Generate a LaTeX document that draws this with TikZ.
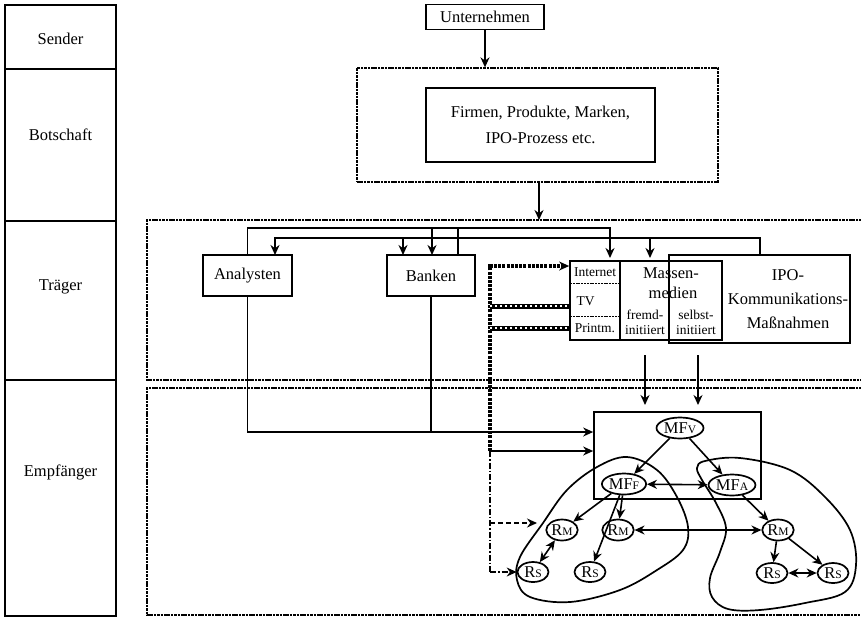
\documentclass[tikz,border=0pt]{standalone}
\usepackage{fontspec}
\setmainfont{Liberation Serif}
\usetikzlibrary{arrows.meta,shapes.geometric,calc}
\newcommand\lowcap[1]{{\fontsize{11.5}{11.5}\selectfont #1}}
\begin{document}
\begin{tikzpicture}[x=1pt,y=-1pt,
  bigtxt/.style={font=\fontsize{16.5}{19}\selectfont},
  smalltxt/.style={font=\fontsize{13.5}{15}\selectfont},
  box/.style={draw, line width=1.7pt, bigtxt, inner sep=0pt},
  conn/.style={line width=1.6pt},
  arr/.style={conn, -{Stealth[length=10pt,width=9pt]}},
  dbl/.style={conn, {Stealth[length=10pt,width=9pt]}-{Stealth[length=10pt,width=9pt]}},
  dframe/.style={line width=1.3pt, dash pattern=on 2.6pt off 0.8pt},
  ell/.style={draw, ellipse, line width=1.7pt, inner sep=0.5pt, minimum height=21pt,
    font=\fontsize{16.5}{16.5}\selectfont},
  heavy/.style={line width=3.2pt, dash pattern=on 3pt off 1.2pt},
  rail/.style={line width=5pt, postaction={draw, white, line width=1.8pt, dash pattern=on 2.2pt off 2.8pt}},
  mixed/.style={line width=1.2pt, dash pattern=on 6pt off 2pt on 1.5pt off 2pt},
  blob/.style={line width=1.7pt},
]
\useasboundingbox (0,0) rectangle (861,619);

% ---------- left column ----------
\draw[line width=1.7pt] (5,5) rectangle (116,616);
\foreach \yy in {69,221,380} \draw[line width=1.7pt] (5,\yy) -- (116,\yy);
\node[bigtxt] (lsender) at (60.5,39) {Sender};
\node[bigtxt] (lbot) at (60.5,135) {Botschaft};
\node[bigtxt] (ltraeger) at (60.5,287) {Träger};
\node[bigtxt] (lempf) at (60.5,472) {Empfänger};

% ---------- sender and message ----------
\node[box, minimum width=118pt, minimum height=25pt] (unt) at (485,17) {Unternehmen};
\node[draw, dframe, minimum width=361pt, minimum height=114pt] (botbox) at (537.5,125) {};
\node[box, minimum width=229pt, minimum height=74pt, align=center,
  font=\fontsize{16.5}{26}\selectfont] (msg) at (540.5,125) {Firmen, Produkte, Marken,\\IPO-Prozess etc.};
\draw[arr] (unt.south) -- (unt.south |- botbox.north);
\coordinate (trtop) at (539,220);
\draw[arr] (botbox.south -| trtop) -- (trtop);

% ---------- carrier frame ----------
\draw[dframe] (872,220) -| (147,380) -- (872,380);

\node[box, minimum width=89pt, minimum height=41pt] (ana) at (247.5,275.5) {Analysten};
\node[box, minimum width=88pt, minimum height=41pt] (ban) at (431,275.5) {Banken};

% mass media block
\node[draw, line width=1.7pt, minimum width=152pt, minimum height=79pt, inner sep=0pt] (media) at (646,300.5) {};
\draw[line width=1.4pt] (620,261) -- (620,340);
\draw[line width=1pt, dash pattern=on 2pt off 0.8pt] (570,283) -- (620,283);
\draw[line width=1pt, dash pattern=on 2pt off 0.8pt] (570,316) -- (620,316);
\node[smalltxt] (tinet) at (595,272) {Internet};
\node[smalltxt, anchor=west] (ttv) at (573,301) {TV};
\node[smalltxt] (tprint) at (595,328) {Printm.};
\node[bigtxt] (tmassen) at (671,273) {Massen-};
\node[bigtxt] (tmedien) at (673,293) {medien};
\node[smalltxt, align=center, font=\fontsize{13.5}{15}\selectfont] (tfremd) at (645,322) {fremd-\\initiiert};
\node[smalltxt, align=center, font=\fontsize{13.5}{15}\selectfont] (tselbst) at (696,322) {selbst-\\initiiert};

\node[box, minimum width=181pt, minimum height=88pt] (ipo) at (759.5,299) {};
\node[bigtxt, align=center, font=\fontsize{16.5}{24}\selectfont] (tipo) at (788,299) {IPO-\\Kommunikations-\\Maßnahmen};

% distribution lines
\coordinate (upA) at (610,258);
\coordinate (upB) at (650,258);
\draw[arr] (ana.north) |- (610,228) -- (upA);
\draw[arr] (432,228) -- (432,255);
\draw[conn] (458,255) -- (458,228);
\draw[arr] (ipo.north -| 760,0) |- (275,238) -- (275,255);
\draw[arr] (403,238) -- (403,255);
\draw[arr] (650,238) -- (upB);

% media channels
\coordinate (split) at (490,451);
\draw[heavy, -{Stealth[length=10pt,width=9pt]}] (split) -- (490,266) -- (media.west |- 0,266);
\draw[rail] (490,306) -- (media.west |- 0,306);
\draw[rail] (490,328) -- (media.west |- 0,328);

% ---------- recipient frame ----------
\draw[dframe] (872,388) -| (147,615) -- (872,615);

\node[draw, line width=1.7pt, minimum width=167pt, minimum height=87pt, inner sep=0pt] (mfbox) at (677.5,455.5) {};
\draw[arr] (645,355) -- (645,405);
\draw[arr] (698,355) -- (698,405);
\draw[arr] (ana.south) |- (mfbox.west |- 0,432);
\draw[conn] (ban.south) -- (431,432);
\draw[arr] (split) -- (mfbox.west |- split);

% opinion network
\node[ell, minimum width=47pt] (mfv) at (680,428) {MF\lowcap{V}};
\node[ell, minimum width=43pt] (mff) at (624,484) {MF\lowcap{F}};
\node[ell, minimum width=44pt] (mfa) at (732,485) {MF\lowcap{A}};
\node[ell, minimum width=31pt] (rml) at (562,530) {R\lowcap{M}};
\node[ell, minimum width=31pt] (rmm) at (618,530) {R\lowcap{M}};
\node[ell, minimum width=31pt] (rmr) at (778,530) {R\lowcap{M}};
\node[ell, minimum width=31pt, minimum height=20pt] (rsl) at (533,572) {R\lowcap{S}};
\node[ell, minimum width=31pt, minimum height=20pt] (rsm) at (590,572) {R\lowcap{S}};
\node[ell, minimum width=31pt, minimum height=20pt] (rsr) at (772,573) {R\lowcap{S}};
\node[ell, minimum width=31pt, minimum height=20pt] (rsx) at (833,573) {R\lowcap{S}};

\draw[arr] (mfv) -- (mff);
\draw[arr] (mfv) -- (mfa);
\draw[dbl] (mff) -- (mfa);
\draw[arr] (mff) -- (rml);
\draw[arr] (mff) -- (rmm);
\draw[arr] (mff) -- (rsm);
\draw[dbl] (rml) -- (rsl);
\draw[dbl] (rmm) -- (rmr);
\draw[arr] (mfa) -- (rmr);
\draw[arr] (rmr) -- (rsr);
\draw[arr] (rmr) -- (rsx);
\draw[dbl] (rsr) -- (rsx);

% direct and indirect reach
\draw[mixed] (split) -- (490,572);
\draw[arr, mixed] (490,572) -- (rsl.west);
\coordinate (dashend) at (537,523);
\draw[arr, line width=1.2pt, dash pattern=on 5pt off 3pt] (490,523) -- (dashend);

% opinion clusters
\draw[blob] plot[smooth cycle, tension=0.6] coordinates {
  (627,457) (657,470) (677,497) (688,527) (683,550) (657,570) (620,590)
  (570,602) (530,597) (517,580) (520,557) (543,523) (567,490) (597,467)};
\draw[blob] plot[smooth cycle, tension=0.6] coordinates {
  (705,461) (740,458) (790,470) (825,497) (850,530) (856,565) (845,592)
  (805,603) (760,610) (728,609) (712,597) (710,578) (720,552) (726,528)
  (716,503) (702,480) (697,468)};
\end{tikzpicture}
\end{document}
